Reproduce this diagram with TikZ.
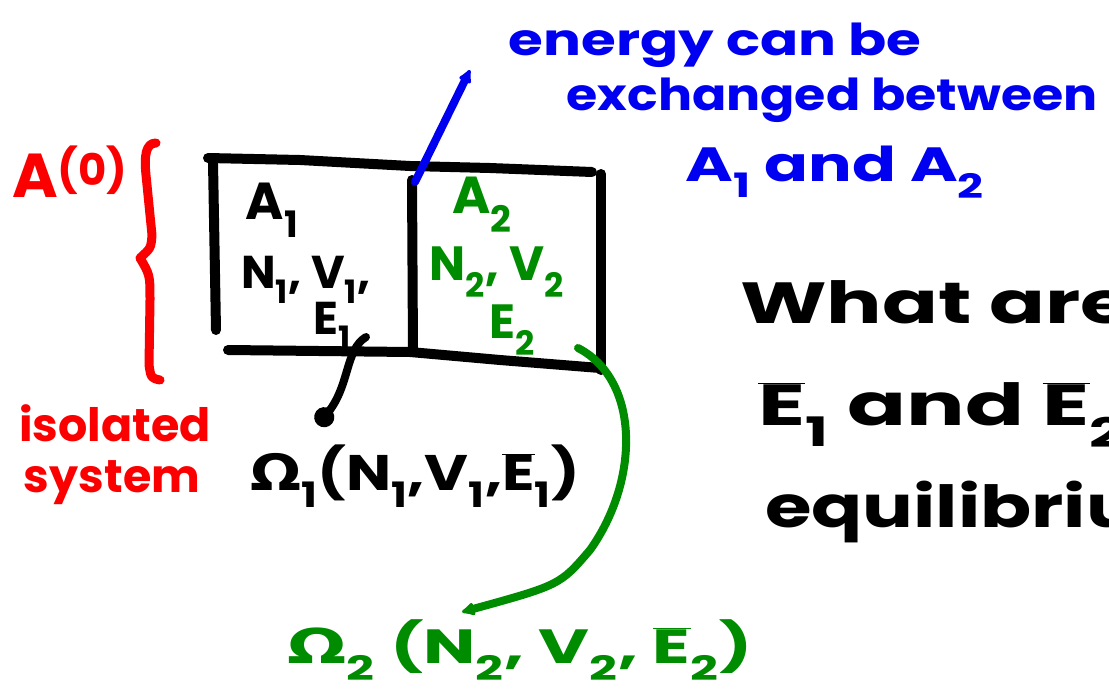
\documentclass[tikz,border=0pt]{standalone}
\usepackage{fontspec}
\setmainfont{Poppins}
\newfontfamily\gr{DejaVu Sans}
\usetikzlibrary{arrows.meta}
\definecolor{inkred}{RGB}{250,0,0}
\definecolor{inkblue}{RGB}{0,0,240}
\definecolor{inkgreen}{RGB}{0,140,0}
\newcommand{\Eb}{\ensuremath{\overline{\mbox{E}}}}
\newcommand{\sub}[1]{\textsubscript{#1}}
\begin{document}
\begin{tikzpicture}[x=1pt,y=-1pt,line cap=round,line join=round,
  hand/.style={font=\bfseries\fontsize{#1}{#1}\selectfont,inner sep=0pt},
  boxline/.style={draw=black,line width=10pt},
  bluepen/.style={draw=inkblue,line width=8pt},
  redpen/.style={draw=inkred,line width=9pt},
  greenpen/.style={draw=inkgreen,line width=8pt},
  blackpen/.style={draw=black,line width=8pt}]
\useasboundingbox (0,0) rectangle (1109,699);
\clip (0,0) rectangle (1109,699);
% box
\draw[boxline] (208,158) -- (300,160) -- (410,166) -- (490,168) -- (592,172);
\draw[boxline] (213,162) -- (216,330);
\draw[boxline] (601,174) -- (601,370);
\draw[boxline] (412,180) -- (413,352);
\draw[boxline] (228,350) -- (410,352) -- (500,360) -- (600,368);
% labels in box
\node[hand=52] (a1) at (272,210) {A\sub{1}};
\node[hand=46] (nv1) at (306,280) {N\sub{1}, V\sub{1},};
\node[hand=46] (e1) at (332,326) {E\sub{1}};
\node[hand=52,text=inkgreen] (a2) at (482,205) {A\sub{2}};
\node[hand=48,text=inkgreen] (nv2) at (497,272) {N\sub{2}, V\sub{2}};
\node[hand=48,text=inkgreen] (e2) at (512,330) {E\sub{2}};
% blue note
\node[hand=44,text=inkblue,xscale=1.28] (b1) at (715,45) {energy can be};
\node[hand=44,text=inkblue,xscale=1.15] (b2) at (832,100) {exchanged between};
\node[hand=48,text=inkblue,xscale=1.35] (b3) at (835,172) {A\sub{1} and A\sub{2}};
\coordinate (wall) at (415,182);
\coordinate (btip) at (470,70);
\draw[bluepen,-{Latex[length=16pt,width=16pt,round]}] (wall) -- (btip);
% red
\node[hand=62,text=inkred] (a0) at (70,172) {A\textsuperscript{(0)}};
\draw[redpen] (156,143) .. controls (146,143) and (144,155) .. (146,175) -- (152,235)
  .. controls (151,248) .. (140,258) .. controls (150,275) .. (150,300) -- (149,365)
  .. controls (151,378) .. (160,380);
\node[hand=46,text=inkred] (iso) at (115,423) {isolated};
\node[hand=46,text=inkred] (sys) at (112,483) {system};
% omega 1
\node[hand=50,xscale=1.2] (om1) at (415,476) {{\gr Ω}\sub{1}(N\sub{1},V\sub{1},\Eb\sub{1})};
\coordinate (e1tail) at (366,337);
\coordinate (dot1) at (318,425);
\draw[blackpen,-{Circle[length=20pt]}] (e1tail) .. controls (345,350) and (350,385) .. (dot1);
% omega 2
\node[hand=48,text=inkgreen,xscale=1.45] (om2) at (520,650) {{\gr Ω}\sub{2} (N\sub{2}, V\sub{2}, \Eb\sub{2})};
\coordinate (e2tail) at (578,348);
\coordinate (g2tip) at (462,612);
\draw[greenpen,-{Latex[length=16pt,width=16pt,round]}] (e2tail) .. controls (640,380) and (640,480) .. (590,550) .. controls (560,585) .. (g2tip);
% right question
\node[hand=58,anchor=west,xscale=1.42] (q1) at (740,302) {What are the};
\node[hand=58,anchor=west,xscale=1.5] (q2) at (758,415) {\Eb\sub{1} and \Eb\sub{2}};
\node[hand=58,anchor=west,xscale=1.3] (q3) at (765,512) {equilibrium};
\end{tikzpicture}
\end{document}
